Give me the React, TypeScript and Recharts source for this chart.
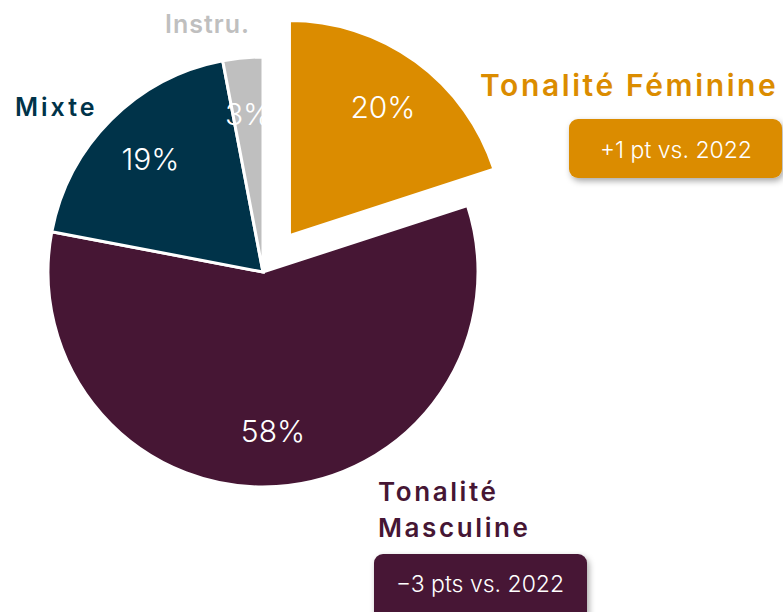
import React from 'react';
import { PieChart, Pie, Cell } from 'recharts';

// Répartition des titres par tonalité (en %)
const categories = ['Tonalité Féminine', 'Tonalité Masculine', 'Mixte', 'Instru.'];
const shares = [20, 58, 19, 3];
const colors = ['#DB8C00', '#461634', '#003349', '#BFBFBF'];
// Évolution vs. 2022 (Féminine, Masculine)
const changes = ['+1 pt vs. 2022', '−3 pts vs. 2022'];

const data = categories.map((name, i) => ({ name, value: shares[i] }));

const W = 783;
const H = 612;
const CX = 263;
const CY = 272;
const R = 215;
const EXPLODE = 45;
const RAD = Math.PI / 180;
const FONT = 'Inter, "Open Sans", sans-serif';

// direction d'éclatement de la part féminine (milieu de la part, sens horaire depuis midi)
const total = shares.reduce((a, b) => a + b, 0);
const femMid = (shares[0] / total) * 180;
const exCX = CX + EXPLODE * Math.sin(femMid * RAD);
const exCY = CY - EXPLODE * Math.cos(femMid * RAD);

const makeLabel = (visible: (i: number) => boolean) => (props: any) => {
  const { cx, cy, midAngle, outerRadius, index, value } = props;
  if (!visible(index)) return null;
  const r = outerRadius * 0.74;
  const x = cx + r * Math.cos(-midAngle * RAD);
  const y = cy + r * Math.sin(-midAngle * RAD);
  return (
    <text x={x} y={y} fill="#fff" textAnchor="middle" dominantBaseline="central"
      fontFamily={FONT} fontWeight={300} fontSize={30}>
      {`${value}%`}
    </text>
  );
};

const titre = { fontFamily: FONT, fontWeight: 600, letterSpacing: 2.6 };

const App = () => (
  <div style={{ position: 'absolute', left: 0, top: 0, width: W, height: H, background: '#fff' }}>
    <PieChart width={W} height={H} margin={{ top: 0, right: 0, bottom: 0, left: 0 }}>
      <defs>
        <filter id="ombre" x="-10%" y="-20%" width="130%" height="160%">
          <feDropShadow dx="2" dy="3" stdDeviation="3" floodColor="#000" floodOpacity="0.35" />
        </filter>
      </defs>
      {/* parts non éclatées */}
      <Pie data={data} dataKey="value" nameKey="name" cx={CX} cy={CY} outerRadius={R}
        startAngle={90} endAngle={-270} stroke="#fff" strokeWidth={3}
        label={makeLabel((i) => i !== 0)} labelLine={false} isAnimationActive={false}>
        {data.map((d, i) => (
          <Cell key={d.name} fill={i === 0 ? 'transparent' : colors[i]} stroke={i === 0 ? 'none' : '#fff'} />
        ))}
      </Pie>
      {/* part féminine éclatée */}
      <Pie data={data} dataKey="value" nameKey="name" cx={exCX} cy={exCY} outerRadius={R}
        startAngle={90} endAngle={-270} stroke="#fff" strokeWidth={3}
        label={makeLabel((i) => i === 0)} labelLine={false} isAnimationActive={false}>
        {data.map((d, i) => (
          <Cell key={d.name} fill={i === 0 ? colors[0] : 'transparent'} stroke={i === 0 ? '#fff' : 'none'} />
        ))}
      </Pie>

      <text x={480} y={96} fill={colors[0]} fontSize={30} style={titre}>{categories[0]}</text>
      <text x={165} y={33} fill={colors[3]} fontSize={25} style={{ ...titre, letterSpacing: 1 }}>{categories[3]}</text>
      <text x={15} y={116} fill={colors[2]} fontSize={25} style={{ ...titre, letterSpacing: 3 }}>{categories[2]}</text>
      <text x={378} y={501} fill={colors[1]} fontSize={26} style={titre}>
        <tspan x={378}>Tonalité</tspan>
        <tspan x={378} dy={36}>Masculine</tspan>
      </text>

      <rect x={569} y={119} width={213} height={59} rx={9} fill={colors[0]} filter="url(#ombre)" />
      <text x={676} y={158} fill="#fff" textAnchor="middle" fontFamily={FONT} fontWeight={300} fontSize={23}>{changes[0]}</text>
      <rect x={374} y={554} width={213} height={70} rx={9} fill={colors[1]} filter="url(#ombre)" />
      <text x={480} y={592} fill="#fff" textAnchor="middle" fontFamily={FONT} fontWeight={300} fontSize={23}>{changes[1]}</text>
    </PieChart>
  </div>
);

export default App;
